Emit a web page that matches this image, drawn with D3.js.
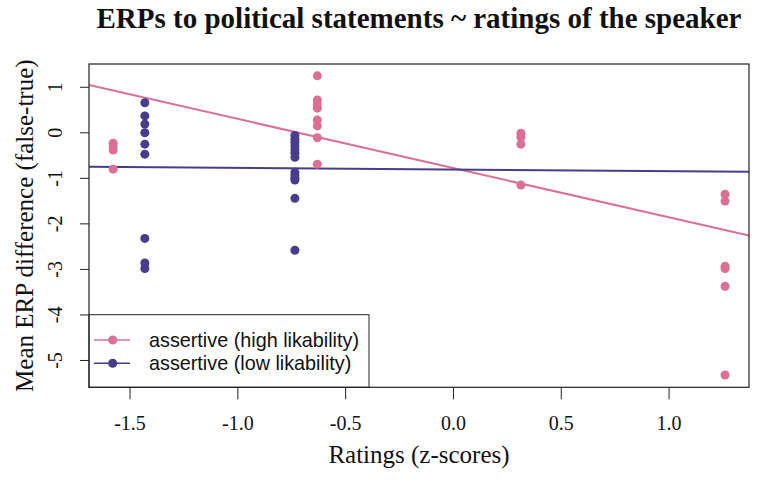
<!DOCTYPE html>
<html>
<head>
<meta charset="utf-8">
<script src="https://cdn.jsdelivr.net/npm/d3@7"></script>
<style>
  html, body { margin: 0; padding: 0; background: #fff; }
  svg { display: block; }
</style>
</head>
<body>
<svg id="chart" width="757" height="489"></svg>
<script>
// ---- data ----
const seriesNames = ["assertive (high likability)", "assertive (low likability)"];
const seriesColors = ["#DB7093", "#483D8B"];

// high likability (pink) points
const highX = [-1.576, -1.576, -1.576, -1.576,
               -0.629, -0.629, -0.629, -0.629, -0.629, -0.629, -0.629, -0.629,
               0.315, 0.315, 0.315, 0.315,
               1.262, 1.262, 1.262, 1.262, 1.262, 1.262];
const highY = [-0.24, -0.32, -0.39, -0.81,
               1.24, 0.71, 0.62, 0.53, 0.27, 0.14, -0.12, -0.70,
               -0.02, -0.11, -0.26, -1.16,
               -1.36, -1.51, -2.94, -2.99, -3.38, -5.33];

// low likability (blue) points
const lowX = [-1.429, -1.429, -1.429, -1.429, -1.429, -1.429, -1.429, -1.429, -1.429,
              -0.733, -0.733, -0.733, -0.733, -0.733, -0.733, -0.733, -0.733, -0.733, -0.733, -0.733, -0.733, -0.733];
const lowY = [0.65, 0.36, 0.18, -0.01, -0.26, -0.48, -2.33, -2.87, -2.99,
              -0.07, -0.15, -0.22, -0.30, -0.38, -0.46, -0.55, -0.88, -0.95, -1.01, -1.05, -1.45, -2.59];

// fitted regression lines: [intercept, slope]
const highFit = [-0.785, -1.081];
const lowFit = [-0.817, -0.036];

const xTicks = [-1.5, -1.0, -0.5, 0.0, 0.5, 1.0];
const xTickLabels = ["-1.5", "-1.0", "-0.5", "0.0", "0.5", "1.0"];
const yTicks = [1, 0, -1, -2, -3, -4, -5];
const yTickLabels = ["1", "0", "-1", "-2", "-3", "-4", "-5"];

const titleText = "ERPs to political statements ~ ratings of the speaker";
const xTitle = "Ratings (z-scores)";
const yTitle = "Mean ERP difference (false-true)";

// ---- layout ----
const L = 89, R = 749, T = 64, B = 387.3;
const svg = d3.select("#chart");
const x = d3.scaleLinear().domain([-1.688, 1.373]).range([L, R]);
const y = d3.scaleLinear().domain([-5.60, 1.50]).range([B, T]);
const serif = "'Liberation Serif', 'Times New Roman', serif";
const sans = "'Liberation Sans', Arial, Helvetica, sans-serif";

const clipId = "plotclip";
svg.append("clipPath").attr("id", clipId)
  .append("rect").attr("x", L).attr("y", T).attr("width", R - L).attr("height", B - T);

// axes
const xAxis = d3.axisBottom(x).tickValues(xTicks).tickSize(12).tickPadding(0)
  .tickFormat((d, i) => xTickLabels[i]);
const gx = svg.append("g").attr("transform", `translate(0,${B})`).call(xAxis);
gx.select(".domain").remove();
gx.selectAll("line").attr("stroke", "#222").attr("stroke-width", 1);
gx.selectAll("text").attr("font-family", serif).attr("font-size", 20).attr("fill", "#111")
  .attr("y", 42.7).attr("dy", null);

const yAxis = d3.axisLeft(y).tickValues(yTicks).tickSize(9).tickPadding(0)
  .tickFormat((d, i) => yTickLabels[i]);
const gy = svg.append("g").attr("transform", `translate(${L},0)`).call(yAxis);
gy.select(".domain").remove();
gy.selectAll("line").attr("stroke", "#222").attr("stroke-width", 1);
gy.selectAll("text")
  .attr("font-family", serif).attr("font-size", 20).attr("fill", "#111")
  .attr("x", null).attr("dy", null)
  .attr("text-anchor", "middle")
  .attr("transform", "translate(-27.5,0) rotate(-90)");

// regression lines
const plot = svg.append("g").attr("clip-path", `url(#${clipId})`);
const fits = [highFit, lowFit];
const xd = x.domain();
fits.forEach((f, i) => {
  plot.append("line")
    .attr("x1", x(xd[0])).attr("y1", y(f[0] + f[1] * xd[0]))
    .attr("x2", x(xd[1])).attr("y2", y(f[0] + f[1] * xd[1]))
    .attr("stroke", seriesColors[i]).attr("stroke-width", 2);
});

// points
const sets = [
  highX.map((v, i) => ({x: v, y: highY[i]})),
  lowX.map((v, i) => ({x: v, y: lowY[i]}))
];
sets.forEach((pts, i) => {
  plot.append("g").selectAll("circle").data(pts).join("circle")
    .attr("cx", d => x(d.x)).attr("cy", d => y(d.y)).attr("r", 4.5)
    .attr("fill", seriesColors[i]);
});

// legend
const lg = svg.append("g");
lg.append("rect").attr("x", L).attr("y", 314.7).attr("width", 280).attr("height", B - 314.7)
  .attr("fill", "#fff").attr("stroke", "#222").attr("stroke-width", 1);
seriesNames.forEach((name, i) => {
  const ry = 340 + i * 23.3;
  lg.append("line").attr("x1", 94).attr("x2", 130).attr("y1", ry).attr("y2", ry)
    .attr("stroke", seriesColors[i]).attr("stroke-width", 1.5);
  lg.append("circle").attr("cx", 112.7).attr("cy", ry).attr("r", 4.5).attr("fill", seriesColors[i]);
  lg.append("text").attr("x", 149).attr("y", ry).attr("dy", "0.36em")
    .attr("font-family", sans).attr("font-size", 19.8).attr("fill", "#111").text(name);
});

// plot box
svg.append("rect").attr("x", L).attr("y", T).attr("width", R - L).attr("height", B - T)
  .attr("fill", "none").attr("stroke", "#222").attr("stroke-width", 1.2);

// titles
svg.append("text").attr("x", (L + R) / 2).attr("y", 28).attr("text-anchor", "middle")
  .attr("font-family", serif).attr("font-weight", "bold").attr("font-size", 29)
  .attr("fill", "#111").text(titleText);
svg.append("text").attr("x", (L + R) / 2).attr("y", 463).attr("text-anchor", "middle")
  .attr("font-family", serif).attr("font-size", 25).attr("fill", "#111").text(xTitle);
svg.append("text").attr("transform", `translate(33,${(T + B) / 2}) rotate(-90)`)
  .attr("text-anchor", "middle")
  .attr("font-family", serif).attr("font-size", 25).attr("fill", "#111").text(yTitle);
</script>
</body>
</html>
